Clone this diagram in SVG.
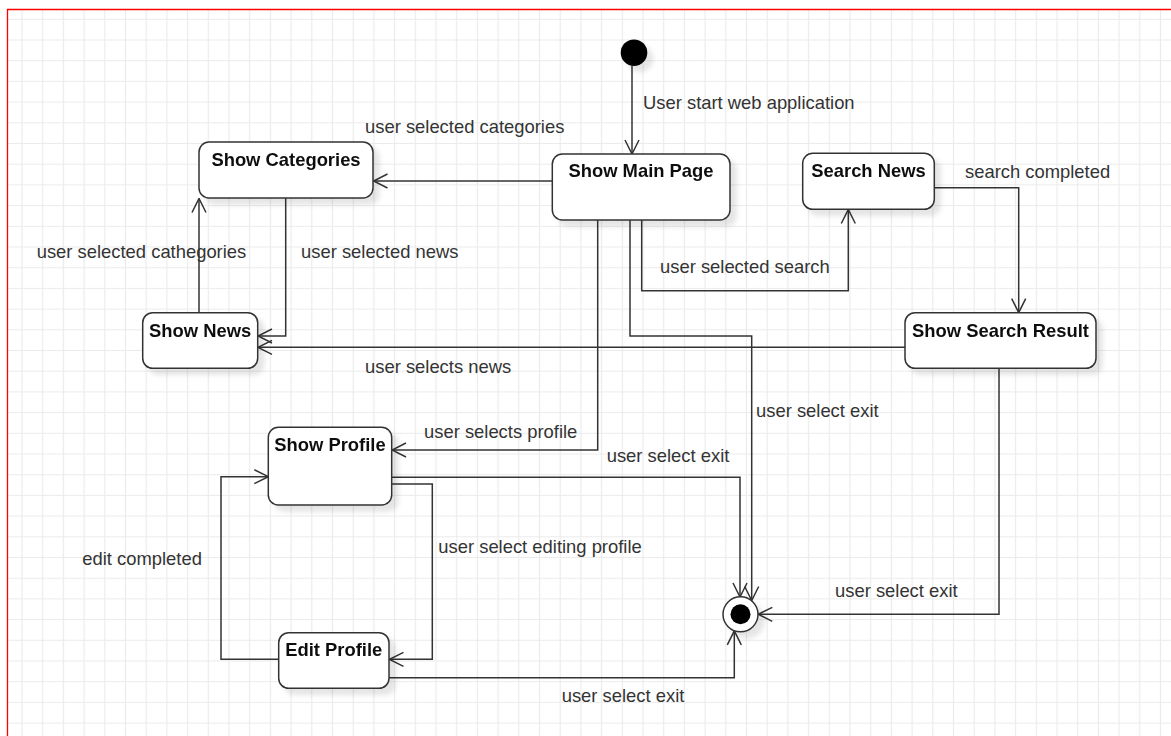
<svg xmlns="http://www.w3.org/2000/svg" width="1171" height="736" viewBox="0 0 1171 736">
<defs>
<pattern id="grid" patternUnits="userSpaceOnUse" x="11.65" y="8.95" width="20.7" height="20.7">
<path d="M10.35,0 V20.7 M0,10.35 H20.7" stroke="#ebebeb" stroke-width="1.2" fill="none"/>
</pattern>
<filter id="sh" x="-20%" y="-20%" width="150%" height="160%">
<feDropShadow dx="6" dy="6" stdDeviation="2.5" flood-color="#000" flood-opacity="0.1"/>
</filter>
<marker id="arr" markerUnits="userSpaceOnUse" viewBox="0 0 16 16" markerWidth="16" markerHeight="16" refX="15" refY="8" orient="auto">
<path d="M1,1 L15,8 L1,15" fill="none" stroke="#333" stroke-width="1.5"/>
</marker>
</defs>
<style>
.st rect{fill:#fff;stroke:#333;stroke-width:1.5}
.st text{font-family:"Liberation Sans",Arial,sans-serif;font-size:18.4px;font-weight:bold;fill:#111;text-anchor:middle}
.c path{fill:none;stroke:#333;stroke-width:1.5;marker-end:url(#arr)}
.lbl{font-family:"Liberation Sans",Arial,sans-serif;font-size:18.4px;fill:#333}
</style>
<rect x="0" y="0" width="1171" height="736" fill="#fff"/>
<rect x="7" y="9" width="1200" height="760" fill="url(#grid)"/>
<path d="M7.5,736 V9.5 H1171" fill="none" stroke="#f00" stroke-width="1.3"/>

<g id="connectors" class="c">
<path d="M632,66 L632,154"/>
<path d="M552,181 L373.5,181"/>
<path d="M285.7,198 L285.7,336 L258,336"/>
<path d="M199,312.7 L199,198.5"/>
<path d="M905,347.3 L258,347.3"/>
<path d="M641.7,220 L641.7,290.7 L848.3,290.7 L848.3,209.5"/>
<path d="M934.3,187.7 L1018.7,187.7 L1018.7,312.7"/>
<path d="M597.7,220 L597.7,450 L392,450"/>
<path d="M630,220 L630,336 L751.7,336 L751.7,600.5"/>
<path d="M391.7,477.3 L740,477.3 L740,597"/>
<path d="M391.7,484 L432.3,484 L432.3,659.3 L389.5,659.3"/>
<path d="M278.7,659.3 L221,659.3 L221,476.7 L268.3,476.7"/>
<path d="M389,677.7 L734.3,677.7 L734.3,630.8"/>
<path d="M999,368.3 L999,614.3 L758.3,614.3"/>
</g>

<g id="labels">
<text class="lbl" x="643" y="109.3">User start web application</text>
<text class="lbl" x="365" y="133.3">user selected categories</text>
<text class="lbl" x="965" y="178.3">search completed</text>
<text class="lbl" x="36.7" y="258.3">user selected cathegories</text>
<text class="lbl" x="301" y="258.3">user selected news</text>
<text class="lbl" x="660" y="273.3">user selected search</text>
<text class="lbl" x="365" y="373.3">user selects news</text>
<text class="lbl" x="756" y="416.7">user select exit</text>
<text class="lbl" x="424" y="438.3">user selects profile</text>
<text class="lbl" x="606.7" y="461.7">user select exit</text>
<text class="lbl" x="438.3" y="553.3">user select editing profile</text>
<text class="lbl" x="82.3" y="565">edit completed</text>
<text class="lbl" x="835" y="597.3">user select exit</text>
<text class="lbl" x="561.7" y="702.3">user select exit</text>
</g>

<g id="initial" filter="url(#sh)">
<circle cx="634" cy="52.7" r="13.3" fill="#000"/>
</g>
<g id="final" filter="url(#sh)">
<circle cx="740.5" cy="614.3" r="17.5" fill="#fff" stroke="#333" stroke-width="1.5"/>
<circle cx="740.5" cy="614.3" r="10" fill="#000"/>
</g>

<g id="show-categories" class="st" filter="url(#sh)">
<rect x="199" y="142" width="174" height="56" rx="10"/>
<text x="286" y="166">Show Categories</text>
</g>
<g id="show-main-page" class="st" filter="url(#sh)">
<rect x="552.3" y="154" width="177.7" height="66" rx="10"/>
<text x="641" y="177">Show Main Page</text>
</g>
<g id="search-news" class="st" filter="url(#sh)">
<rect x="802.7" y="153.3" width="131.6" height="56" rx="10"/>
<text x="868.5" y="177">Search News</text>
</g>
<g id="show-news" class="st" filter="url(#sh)">
<rect x="142.7" y="312.7" width="115" height="55.6" rx="10"/>
<text x="200.2" y="336.7">Show News</text>
</g>
<g id="show-search-result" class="st" filter="url(#sh)">
<rect x="905" y="312.7" width="191" height="55.6" rx="10"/>
<text x="1000.5" y="336.7">Show Search Result</text>
</g>
<g id="show-profile" class="st" filter="url(#sh)">
<rect x="268.3" y="427.3" width="123.4" height="77.7" rx="10"/>
<text x="330" y="450.7">Show Profile</text>
</g>
<g id="edit-profile" class="st" filter="url(#sh)">
<rect x="278.7" y="632.7" width="110.3" height="55.6" rx="10"/>
<text x="333.8" y="656">Edit Profile</text>
</g>
</svg>
